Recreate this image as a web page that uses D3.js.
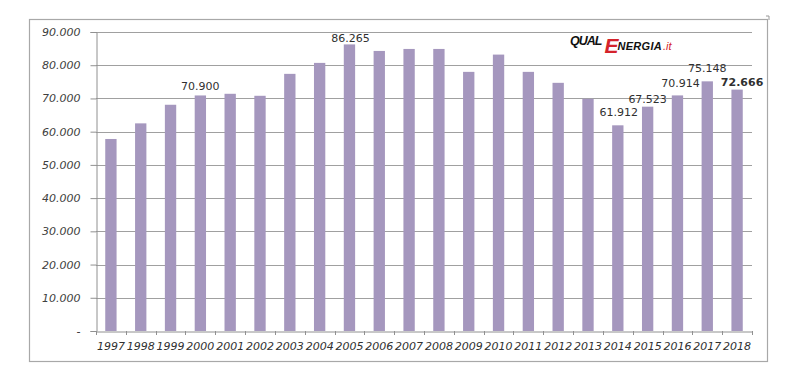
<!DOCTYPE html>
<html><head><meta charset="utf-8">
<script src="https://cdn.jsdelivr.net/npm/d3@7/dist/d3.min.js"></script>
<style>body{margin:0;background:#fff}svg{display:block}</style>
</head><body>
<svg id="c" width="800" height="381"></svg>
<script>
const years = ["1997","1998","1999","2000","2001","2002","2003","2004","2005","2006","2007","2008","2009","2010","2011","2012","2013","2014","2015","2016","2017","2018"];
const values = [57800,62500,68100,70900,71400,70800,77400,80700,86265,84300,84900,84900,78000,83200,78000,74700,69900,61912,67523,70914,75148,72666];
const labelYears = ["2000","2005","2014","2015","2016","2017","2018"];
const yTicks = [0,10000,20000,30000,40000,50000,60000,70000,80000,90000];

const svg = d3.select("#c");
const m = {l:96, r:752, t:32, b:331};
const x = d3.scaleBand().domain(years).range([m.l, m.r]).paddingInner(0.62).paddingOuter(0.31);
const xb = d3.scaleBand().domain(years).range([m.l, m.r]);
const y = d3.scaleLinear().domain([0,90000]).range([m.b, m.t]);
const fmt = v => v === 0 ? "-" : d3.format(",.0f")(v).replace(/,/g,".");
const fmt3 = v => (v/1000).toFixed(3);

// outer frame
svg.append("rect").attr("x",29.5).attr("y",19.5).attr("width",738).attr("height",342)
  .attr("fill","none").attr("stroke","#a8a8a8").attr("stroke-width",1.2);
svg.append("path").attr("d","M766,16 L769,16 L769,20").attr("stroke","#999").attr("fill","none");

// gridlines
svg.append("g").selectAll("line").data(yTicks.filter(d=>d>0)).join("line")
  .attr("x1",m.l).attr("x2",m.r).attr("y1",d=>Math.round(y(d))+0.5).attr("y2",d=>Math.round(y(d))+0.5)
  .attr("stroke","#a0a0a0").attr("stroke-width",1);

// y axis
const ya = svg.append("g").attr("transform",`translate(${m.l+0.5},0)`)
  .call(d3.axisLeft(y).tickValues(yTicks).tickFormat(fmt).tickSize(6).tickPadding(10));
ya.select(".domain").attr("stroke","#909090");
ya.selectAll(".tick line").attr("stroke","#909090");
ya.selectAll("text").attr("font-family","DejaVu Sans").attr("font-style","italic")
  .attr("font-size","11px").attr("fill","#404040");

// bars
svg.append("g").selectAll("rect").data(years).join("rect")
  .attr("x",d=>x(d)).attr("width",x.bandwidth())
  .attr("y",(d,i)=>y(values[i])).attr("height",(d,i)=>y(0)-y(values[i]))
  .attr("fill","#a597be");

// x axis
const xa = svg.append("g").attr("transform",`translate(0,${m.b+0.5})`)
  .call(d3.axisBottom(xb).tickSize(0).tickPadding(11));
xa.select(".domain").attr("stroke","#909090");
xa.selectAll("text").attr("font-family","DejaVu Sans").attr("font-style","italic")
  .attr("font-size","11px").attr("fill","#303030");
svg.append("g").selectAll("line").data(years.concat(["end"])).join("line")
  .attr("x1",(d,i)=>Math.round(m.l + i*xb.bandwidth())+0.5).attr("x2",(d,i)=>Math.round(m.l + i*xb.bandwidth())+0.5)
  .attr("y1",m.b).attr("y2",m.b+4).attr("stroke","#909090");

// data labels
const off = {"2000":[0,-5],"2005":[1,-2],"2014":[1,-9],"2015":[0,-4],"2016":[3,-8],"2017":[0,-9],"2018":[5,-4]};
svg.append("g").selectAll("text").data(labelYears).join("text")
  .attr("x",d=>x(d)+x.bandwidth()/2+off[d][0])
  .attr("y",d=>y(values[years.indexOf(d)])+off[d][1])
  .attr("text-anchor","middle")
  .attr("font-family","DejaVu Sans").attr("font-size","11px")
  .attr("font-weight",d=>d==="2018"?"bold":"normal")
  .attr("fill","#303030")
  .text(d=>fmt3(values[years.indexOf(d)]));

// logo (single text with tspans)
const lg = svg.append("text").attr("x",570).attr("y",45)
  .attr("font-family","Liberation Sans").attr("font-style","italic").attr("font-weight","bold");
lg.append("tspan").attr("font-size","12.5px").attr("fill","#111").attr("letter-spacing","-1").text("QUAL");
lg.append("tspan").attr("font-size","21px").attr("fill","#d4232b").attr("dx",3).attr("dy",8).attr("letter-spacing","-1").text("E");
lg.append("tspan").attr("font-size","11px").attr("fill","#111").attr("dy",-3).attr("letter-spacing","0.3").text("NERGIA");
lg.append("tspan").attr("font-size","11px").attr("fill","#d4232b").attr("font-weight","normal").attr("dx",1).text(".it");
</script>
</body></html>
